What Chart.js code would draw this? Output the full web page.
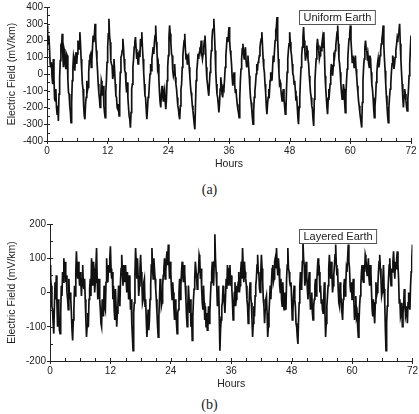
<!DOCTYPE html>
<html><head><meta charset="utf-8">
<script src="https://cdn.jsdelivr.net/npm/chart.js@4.4.1/dist/chart.umd.min.js"></script>
<style>
body{margin:0;width:419px;height:414px;background:#fff;overflow:hidden;position:relative;font-family:"Liberation Sans",Arial,sans-serif}
#w1{position:absolute;left:0;top:0;width:419px;height:170px}
#w2{position:absolute;left:0;top:205px;width:419px;height:185px}
.cap{position:absolute;left:0;width:419px;text-align:center;font-family:"Liberation Serif","Times New Roman",serif;font-size:14px;color:#222}
</style></head><body>
<div id="w1"><canvas id="c1"></canvas></div>
<div id="w2"><canvas id="c2"></canvas></div>
<div class="cap" style="top:182px">(a)</div>
<div class="cap" style="top:397px">(b)</div>
<script>
// sampling step of the series (hours)
const stepHours = 0.125;
const xTickLabels = ["0","12","24","36","48","60","72"];
const yTicksUniform = [-400,-300,-200,-100,0,100,200,300,400];
const yTicksLayered = [-200,-100,0,100,200];
const titleA = "Uniform Earth";
const titleB = "Layered Earth";
const xTitle = "Hours";
const yTitle = "Electric Field (mV/km)";

// Uniform Earth, mV/km, every 0.125 h from 0 to 72 h (one row = 3 h)
const uniformEarth = [
 290,210,180,230,150,60,40,70,-20,-60,90,-20,-150,-160,-90,-200,-240,-190,-280,-120,-20,80,160,150,
 240,110,40,150,130,50,30,120,110,-30,-110,-120,-190,-230,-290,-170,-40,40,110,90,20,100,130,60,
 120,200,170,150,250,180,90,20,-60,-90,-190,-250,-270,-180,-140,-40,-100,-80,10,80,110,120,40,80,
 160,230,190,230,300,220,140,80,20,-60,-110,-150,-200,-150,-40,-60,-130,-70,-190,-230,-260,-110,-40,70,
 160,240,330,230,190,80,60,50,-30,0,90,20,-60,-130,-140,-200,-210,-180,-250,-120,10,100,110,140,
 210,160,90,20,10,-60,-110,-50,-140,-200,-250,-270,-320,-230,-90,-60,40,90,160,190,220,150,90,130,
 60,70,140,100,210,170,250,160,90,10,-60,-130,-140,-210,-270,-210,-140,-130,-60,0,60,20,90,120,
 160,120,190,230,290,190,140,40,60,-30,-110,-170,-200,-120,-70,-130,-160,-110,-90,-160,-210,-150,-40,40,
 110,220,290,240,190,120,110,20,-10,10,60,-20,-60,-90,-140,-190,-210,-250,-270,-190,-90,-60,40,110,
 160,200,240,150,90,120,60,100,110,40,-10,-70,-110,-140,-190,-220,-260,-300,-330,-180,-40,20,60,120,
 90,130,160,140,200,120,90,120,160,200,230,150,40,-30,-60,-100,-130,-60,10,80,140,200,260,270,
 330,240,140,20,-60,-120,-140,-180,-230,-180,-90,-20,-60,-120,-140,-80,-90,-30,40,110,160,220,190,230,
 280,200,140,110,60,-20,-70,-20,10,-60,-110,-90,-140,-180,-210,-230,-260,-150,-40,30,90,150,180,130,
 90,130,160,80,40,60,110,50,-10,-80,-140,-170,-210,-260,-300,-220,-140,-100,-60,0,60,20,70,80,
 110,160,190,210,250,170,90,40,10,-60,-110,-190,-240,-180,-140,-90,-110,-40,10,-10,-40,40,110,70,
 140,200,260,280,340,210,90,10,-60,-50,-90,-130,-160,-120,-90,-150,-190,-240,-230,-90,10,90,140,180,
 250,190,140,110,60,0,-10,-60,-40,-100,-160,-130,-190,-260,-300,-200,-140,-40,40,110,160,220,280,200,
 140,80,110,170,140,90,60,-10,-60,-110,-140,-190,-210,-270,-310,-150,-40,30,90,160,210,170,140,90,
 110,150,140,180,210,160,250,120,-10,-80,-140,-200,-240,-150,-90,-110,-60,10,60,20,-10,50,110,100,
 140,170,210,250,290,180,90,60,10,-60,-110,-150,-140,-60,-90,-170,-230,-120,-40,30,90,160,210,240,
 290,200,140,70,110,90,40,80,110,30,-10,-70,-110,-160,-190,-230,-260,-290,-320,-170,-40,40,90,160,
 200,160,140,80,110,60,40,110,90,10,-60,-90,-140,-210,-260,-190,-140,-50,10,60,90,40,60,110,
 140,180,210,240,290,170,90,20,-60,-130,-190,-250,-290,-200,-140,-90,-60,10,60,110,90,30,60,100,
 140,170,210,190,240,260,300,180,90,10,-60,-140,-200,-130,-90,-120,-160,-200,-220,-150,-90,-10,60,150,
 230
];

// Layered Earth, mV/km, every 0.125 h from 0 to 72 h (one row = 3 h)
const layeredEarth = [
 80,40,20,-40,-50,-90,-120,-40,30,-20,50,-30,-100,-20,-60,-110,-120,-60,20,-10,60,30,100,50,
 90,30,50,0,-20,-50,40,-20,0,-20,-60,-110,-140,-80,-50,20,-10,60,120,70,40,90,60,20,
 60,30,-10,40,80,20,10,40,-20,-80,-130,-100,-60,-100,-20,10,40,-10,100,70,20,90,70,0,
 30,80,130,40,-20,20,40,-20,-50,-90,-100,-20,-40,-70,20,-40,-50,30,100,40,30,80,60,100,
 135,70,40,60,-20,20,-50,-80,10,-40,-100,-60,-30,20,0,-40,30,70,110,60,20,80,60,30,
 80,40,0,60,30,-20,50,10,-50,-20,-90,-130,-170,-60,-30,50,130,90,40,100,50,-10,20,70,
 110,60,30,-30,-20,30,40,-40,-20,-80,-130,-90,-50,-110,-80,-20,20,80,130,70,40,100,70,40,
 10,-20,-60,-100,-130,-70,-20,40,20,-40,-30,20,50,70,100,40,60,100,120,80,140,90,40,90,
 60,10,-20,30,0,-50,-80,-20,-40,-90,-120,-60,-50,0,40,-20,20,60,90,50,30,80,60,20,
 -20,-70,-100,-40,20,-20,-60,-20,-100,-60,-140,-70,-20,10,40,90,90,40,10,50,60,110,100,40,
 70,10,-30,-50,20,-30,-80,-40,-100,-60,-110,-80,-40,-90,-60,-10,30,60,90,40,20,90,170,100,
 60,20,-40,-10,20,-70,-170,-110,-80,-40,-30,20,0,-30,-60,-10,40,10,80,30,20,70,80,20,
 50,10,-30,-80,-50,0,30,-40,-20,20,0,30,60,0,20,60,90,40,130,80,30,90,60,40,
 20,-20,-40,-90,-60,0,30,-10,-30,-80,-130,-90,-40,-70,-10,20,40,80,110,60,50,10,0,60,
 110,70,30,-20,-40,-90,-50,-20,-10,-60,-130,-100,-60,-20,20,-20,30,70,80,30,40,90,100,70,
 130,80,50,100,70,20,0,40,-20,-40,30,-20,-50,0,-20,-50,40,80,130,70,60,30,20,30,
 -20,-80,-60,-10,20,-20,-40,-90,-100,-130,-150,-80,-30,20,60,10,20,90,150,100,80,20,40,90,
 50,10,-20,30,60,0,-50,-20,0,-60,-80,-40,-20,20,40,-10,30,70,100,50,60,0,20,-30,
 -20,-50,-60,-20,30,-60,-130,-90,-40,-10,20,70,110,70,40,90,60,0,20,50,80,110,140,80,
 50,70,10,-30,-40,30,0,-30,-60,-80,-20,20,40,-10,20,70,60,100,140,90,70,20,0,30,
 -20,10,40,-30,-80,-40,-10,-70,-60,-100,-130,-90,-40,-10,20,60,80,40,30,80,60,110,100,70,
 50,70,100,40,20,80,60,0,-50,-70,-20,-60,-90,-30,30,-10,0,20,60,90,110,70,40,-10,
 0,40,80,10,-30,-110,-170,-90,-40,0,40,80,100,50,20,70,60,90,120,80,40,90,70,100,
 120,80,40,-30,-20,-70,-60,-30,-100,-60,-40,10,-20,-70,-60,-40,-90,-30,0,-40,-50,20,60,100,
 140
];

const toPts = arr => arr.map((v,i)=>({x:i*stepHours, y:v}));

const inTicks = {
  id:'inTicks',
  afterDraw(chart, args, o){
    const {ctx, chartArea:a, scales:{x,y}} = chart;
    ctx.save(); ctx.strokeStyle='#222'; ctx.lineWidth=1;
    for(let v=o.xmin; v<=o.xmax+1e-9; v+=o.xstep){
      const px=Math.round(x.getPixelForValue(v))+0.5;
      ctx.beginPath(); ctx.moveTo(px,a.bottom); ctx.lineTo(px,a.bottom-3); ctx.stroke();
    }
    for(let v=o.ymin; v<=o.ymax+1e-9; v+=o.ystep){
      const py=Math.round(y.getPixelForValue(v))+0.5;
      ctx.beginPath(); ctx.moveTo(a.left,py); ctx.lineTo(a.left+3,py); ctx.stroke();
    }
    // label box
    ctx.font='11px "Liberation Sans", Arial, sans-serif';
    const w=ctx.measureText(o.label).width+8, h=14;
    const bx=Math.round(a.right-o.boxRight-w)+0.5, by=Math.round(a.top+o.boxTop)+0.5;
    ctx.fillStyle='#fff'; ctx.fillRect(bx,by,w,h);
    ctx.strokeStyle='#555'; ctx.strokeRect(bx,by,w,h);
    ctx.fillStyle='#222'; ctx.textBaseline='middle'; ctx.textAlign='left';
    ctx.fillText(o.label,bx+4,by+h/2+0.5);
    ctx.restore();
  }
};

function makeChart(id, data, yTicks, yW, pad, label, boxTop){
  const ymin=yTicks[0], ymax=yTicks[yTicks.length-1];
  return new Chart(document.getElementById(id), {
    type:'line',
    data:{datasets:[{data:toPts(data), borderColor:'#111111', borderWidth:1.7, pointRadius:0, tension:0, fill:false}]},
    options:{
      responsive:true, maintainAspectRatio:false, animation:false,
      layout:{padding:pad},
      plugins:{legend:{display:false}, tooltip:{enabled:false},
        inTicks:{xmin:0,xmax:72,xstep:3,ymin:ymin,ymax:ymax,ystep:50,label:label,boxRight:36,boxTop:boxTop}},
      scales:{
        x:{type:'linear', min:0, max:72,
          afterBuildTicks:s=>{s.ticks=xTickLabels.map(t=>({value:Number(t)}));},
          afterFit:s=>{s.height=29;},
          ticks:{font:{family:'"Liberation Sans", Arial, sans-serif', size:10}, color:'#222', padding:1, maxRotation:0},
          grid:{drawOnChartArea:false, drawTicks:true, tickLength:3, color:'#222'},
          border:{display:true, color:'#222', width:1},
          title:{display:true, text:xTitle, font:{family:'"Liberation Sans", Arial, sans-serif', size:10.5}, color:'#222', padding:{top:0,bottom:0}}
        },
        y:{type:'linear', min:ymin, max:ymax,
          afterBuildTicks:s=>{s.ticks=yTicks.map(t=>({value:t}));},
          afterFit:s=>{s.width=yW;},
          ticks:{font:{family:'"Liberation Sans", Arial, sans-serif', size:10}, color:'#222', padding:1},
          grid:{drawOnChartArea:false, drawTicks:true, tickLength:3, color:'#222'},
          border:{display:true, color:'#222', width:1},
          title:{display:true, text:yTitle, font:{family:'"Liberation Sans", Arial, sans-serif', size:10.5}, color:'#222', padding:{top:6,bottom:0}}
        }
      }
    },
    plugins:[inTicks]
  });
}

makeChart('c1', uniformEarth, yTicksUniform, 47, {top:5,right:8,left:0,bottom:0}, titleA, 3);
makeChart('c2', layeredEarth, yTicksLayered, 50, {top:19,right:6,left:0,bottom:0}, titleB, 5);
</script>
</body></html>
